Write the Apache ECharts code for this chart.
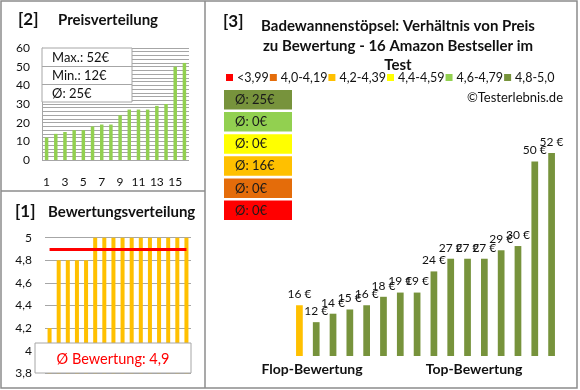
<!DOCTYPE html>
<html>
<head>
<meta charset="utf-8">
<script src="https://cdn.jsdelivr.net/npm/echarts@6/dist/echarts.min.js"></script>
<style>
html,body{margin:0;padding:0;background:#fff;}
#c{width:580px;height:390px;}
</style>
</head>
<body>
<div id="c"></div>
<script>
// ---- data ----
const productIndex = ['1','2','3','4','5','6','7','8','9','10','11','12','13','14','15','16'];
const pricesSorted = [12,14,15,16,16,18,19,19,24,27,27,27,29,30,50,52];
const ratingsSorted = [4.2,4.8,4.8,4.8,4.8,5,5,5,5,5,5,5,5,5,5,5];
const productPrices = [16,12,14,15,16,18,19,19,24,27,27,27,29,30,50,52];
const productClass = [2,5,5,5,5,5,5,5,5,5,5,5,5,5,5,5];
const classNames = ['<3,99','4,0-4,19','4,2-4,39','4,4-4,59','4,6-4,79','4,8-5,0'];
const classAvg = [0,0,16,0,0,25];
const priceTicks = [0,10,20,30,40,50,60];
const ratingTicks = [3.8,4,4.2,4.4,4.6,4.8,5];
const ratingAvg = 4.9;
const priceMax = 52, priceMin = 12, priceAvg = 25;

// ---- styles ----
const classColors = ['#FF0000','#E46C0A','#FFC000','#FFFF00','#92D050','#77933C'];
const FONT = 'Lato, "Open Sans", sans-serif';
const GRID_GRAY = '#a6a6a6';
const BORDER = '#8c8c8c';
const fmtDec = v => String(Math.round(v * 10) / 10).replace('.', ',');

const chart = echarts.init(document.getElementById('c'), null, {renderer: 'canvas'});

function txt(text, x, y, size, opts) {
  opts = opts || {};
  return {
    type: 'text', z: opts.z || 110,
    style: {
      text: text, x: x, y: y,
      font: (opts.bold ? 'bold ' : '') + size + 'px ' + FONT,
      fill: opts.color || '#111',
      textAlign: opts.align || 'left', align: opts.align || 'left',
      textVerticalAlign: 'middle', verticalAlign: 'middle',
      lineHeight: opts.lineHeight
    }
  };
}

// right-panel series split by rating class (overlapping slot)
const classSeries = classNames.map((name, ci) => ({
  name: name,
  type: 'bar',
  xAxisIndex: 2, yAxisIndex: 2,
  barWidth: '40%',
  barGap: '-100%',
  itemStyle: {color: classColors[ci]},
  label: {
    show: true, position: 'top', distance: 5,
    formatter: p => p.value + ' €',
    fontFamily: FONT, fontSize: 12, color: '#111'
  },
  data: productPrices.map((v, i) => productClass[i] === ci ? v : '-')
}));

const graphics = [];
// borders
graphics.push({type: 'rect', z: 120, shape: {x: 1, y: 1, width: 576, height: 387},
  style: {fill: 'none', stroke: BORDER, lineWidth: 1.5}});
graphics.push({type: 'line', z: 120, shape: {x1: 205, y1: 1, x2: 205, y2: 388},
  style: {stroke: BORDER, lineWidth: 1.5}});
graphics.push({type: 'line', z: 120, shape: {x1: 1, y1: 191, x2: 205, y2: 191},
  style: {stroke: BORDER, lineWidth: 1.5}});

// panel 2 title
graphics.push(txt('[2]', 18, 20, 17, {bold: true}));
graphics.push(txt('Preisverteilung', 58, 20, 15, {bold: true}));
// stats box
graphics.push({type: 'rect', z: 100, shape: {x: 42, y: 48, width: 90, height: 54},
  style: {fill: '#fff', stroke: GRID_GRAY, lineWidth: 1}});
graphics.push({type: 'line', z: 101, shape: {x1: 42, y1: 66.5, x2: 132, y2: 66.5}, style: {stroke: GRID_GRAY}});
graphics.push({type: 'line', z: 101, shape: {x1: 42, y1: 84.5, x2: 132, y2: 84.5}, style: {stroke: GRID_GRAY}});
graphics.push(txt('Max.: ' + priceMax + '€', 52, 58, 13));
graphics.push(txt('Min.: ' + priceMin + '€', 52, 76, 13));
graphics.push(txt('Ø: ' + priceAvg + '€', 52, 93.5, 13));

// panel 1 title
graphics.push(txt('[1]', 15, 212, 17, {bold: true}));
graphics.push(txt('Bewertungsverteilung', 48, 212, 15, {bold: true}));
// rating avg box
graphics.push({type: 'rect', z: 100, shape: {x: 35, y: 343, width: 156, height: 30},
  style: {fill: '#fff', stroke: GRID_GRAY, lineWidth: 1}});
graphics.push(txt('Ø Bewertung: ' + fmtDec(ratingAvg), 113, 359, 14.5, {color: '#FF0000', align: 'center'}));

// panel 3 title
graphics.push(txt('[3]', 223, 22, 17, {bold: true}));
graphics.push(txt('Badewannenstöpsel: Verhältnis von Preis\nzu Bewertung - 16 Amazon Bestseller im\nTest', 398, 46, 15, {bold: true, align: 'center', lineHeight: 19.5}));
graphics.push(txt('©Testerlebnis.de', 563, 98, 13, {align: 'right'}));

// class average boxes (top: best class)
const boxOrder = [5,4,3,2,1,0];
boxOrder.forEach((ci, k) => {
  const y = 90 + k * 22.1;
  graphics.push({type: 'rect', z: 100, shape: {x: 224, y: y, width: 68, height: 19.5},
    style: {fill: classColors[ci]}});
  graphics.push(txt('Ø: ' + classAvg[ci] + '€', 235, y + 10, 13, {color: '#1a1a1a'}));
});

graphics.push(txt('Flop-Bewertung', 312, 369, 14, {bold: true, align: 'center'}));
graphics.push(txt('Top-Bewertung', 474, 369, 14, {bold: true, align: 'center'}));

const option = {
  animation: false,
  backgroundColor: '#fff',
  textStyle: {fontFamily: FONT},
  legend: {
    data: classNames,
    left: 226, top: 71, padding: 0, width: 400, orient: 'horizontal',
    itemWidth: 7, itemHeight: 7, itemGap: 1, icon: 'rect',
    textStyle: {fontFamily: FONT, fontSize: 12.5, color: '#111', padding: [0, 0, 0, -1]},
    selectedMode: false
  },
  grid: [
    {left: 42, top: 48, width: 147, height: 112},
    {left: 45, top: 237.7, width: 146, height: 135.6},
    {left: 291, top: 153, width: 269, height: 203}
  ],
  xAxis: [
    {gridIndex: 0, type: 'category', data: productIndex,
      axisLine: {show: false}, axisTick: {show: false},
      axisLabel: {interval: 1, margin: 16, fontSize: 12, color: '#111', fontFamily: FONT}},
    {gridIndex: 1, type: 'category', data: productIndex,
      axisLine: {show: false}, axisTick: {show: false}, axisLabel: {show: false}},
    {gridIndex: 2, type: 'category', data: productIndex,
      axisLine: {show: false}, axisTick: {show: false}, axisLabel: {show: false}}
  ],
  yAxis: [
    {gridIndex: 0, type: 'value', min: priceTicks[0], max: priceTicks[priceTicks.length - 1],
      interval: priceTicks[1] - priceTicks[0],
      axisLine: {show: true, lineStyle: {color: GRID_GRAY}}, axisTick: {show: false},
      axisLabel: {margin: 12, fontSize: 12, color: '#111', fontFamily: FONT},
      splitLine: {show: true, lineStyle: {color: GRID_GRAY, width: 1}},
      minorTick: {show: false, splitNumber: 5},
      minorSplitLine: {show: true, lineStyle: {color: GRID_GRAY, width: 1}}},
    {gridIndex: 1, type: 'value', min: ratingTicks[0], max: ratingTicks[ratingTicks.length - 1],
      interval: 0.2,
      axisLine: {show: false}, axisTick: {show: false},
      axisLabel: {margin: 13, fontSize: 12, color: '#111', fontFamily: FONT, formatter: fmtDec},
      splitLine: {show: true, lineStyle: {color: GRID_GRAY, width: 1}}},
    {gridIndex: 2, type: 'value', min: 4, max: 52, show: false,
      splitLine: {show: false}}
  ],
  series: [
    {type: 'bar', xAxisIndex: 0, yAxisIndex: 0, barWidth: '38%',
      itemStyle: {color: '#92D050'}, data: pricesSorted},
    {type: 'bar', xAxisIndex: 1, yAxisIndex: 1, barWidth: '44%',
      itemStyle: {color: '#FFC000'}, data: ratingsSorted,
      markLine: {silent: true, symbol: 'none', label: {show: false},
        lineStyle: {color: '#FF0000', width: 3, type: 'solid'},
        data: [[{coord: [0, ratingAvg]}, {coord: [productIndex.length - 1, ratingAvg]}]]}}
  ].concat(classSeries),
  graphic: graphics
};
chart.setOption(option);
</script>
</body>
</html>
